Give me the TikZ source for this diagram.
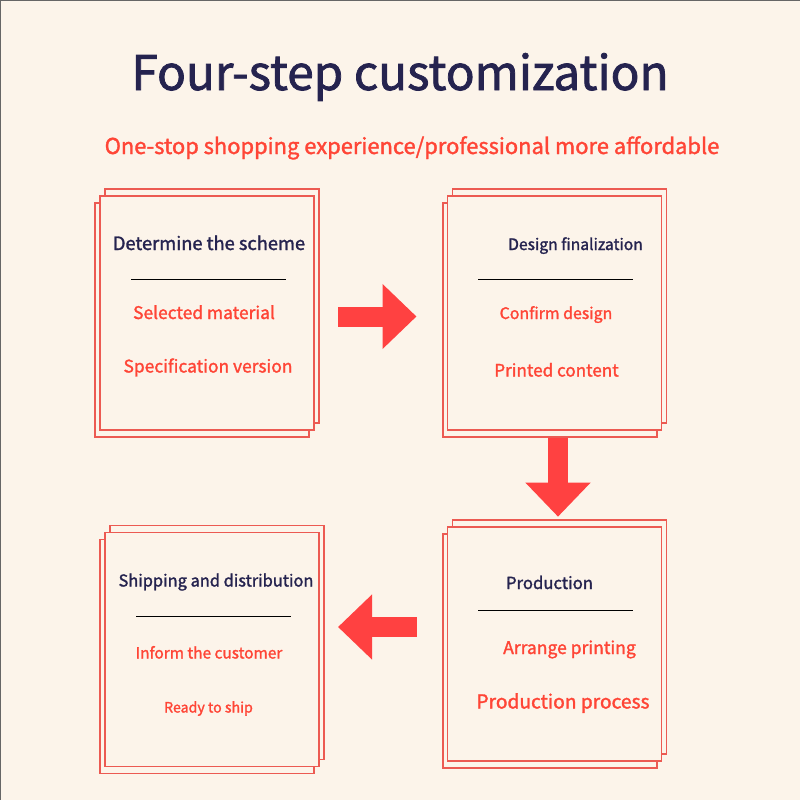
\documentclass[tikz,border=0pt]{standalone}
\usepackage{fontspec}
\setmainfont{Noto Sans CJK SC}[FakeBold=1.6]
\usetikzlibrary{arrows.meta,positioning}
\definecolor{pagebg}   {HTML}{FCF4EA}
\definecolor{inkblue}  {HTML}{25234F}
\definecolor{textred}  {HTML}{FF4536}
\definecolor{arrowred} {HTML}{FF4141}
\definecolor{cardred}  {HTML}{EC5A52}
\newcommand{\pxsize}[1]{\fontsize{#1pt}{#1pt}\selectfont}

\begin{document}
\begin{tikzpicture}[
  sheet/.style={draw=cardred,fill=pagebg,line width=1.2pt,
                minimum width=214pt,minimum height=234pt,inner sep=0pt},
  head/.style={text=inkblue,anchor=base,inner sep=0pt},
  item/.style={text=textred,anchor=base,inner sep=0pt},
  rule/.style={black,line width=0.9pt},
  bigarr/.style={arrowred,line width=20pt,-{Triangle[length=34pt,width=63pt]}},
  x=1pt,y=-1pt
]
\fill[pagebg] (0,0) rectangle (800,800);
\useasboundingbox (0,0) rectangle (800,800);
\draw[gray!80!black,line width=2pt] (0,800) -- (0,0) -- (800,0);
% Title
\node[head,font=\pxsize{47.7}] (title) at (400,90) {Four-step customization};
\node[item,font=\pxsize{21.9}] (slogan) at (412,154) {One-stop shopping experience/professional more affordable};
% Step 1
\node[sheet] (s1l) at (202,320) {};
\node[sheet] (s1r) at (212,306) {};
\node[sheet] (s1)  at (207,313) {};
\node[head,font=\pxsize{18.3}] (h1)  at (209,250)   {Determine the scheme};
\draw[rule] (131,279) -- (286,279);
\node[item,font=\pxsize{17.4}] (i1a) at (204,319)   {Selected material};
\node[item,font=\pxsize{17.4}] (i1b) at (208,372.5) {Specification version};
% Step 2
\node[sheet] (s2l) at (550,320) {};
\node[sheet] (s2r) at (559.5,306) {};
\node[sheet] (s2)  at (554.5,313) {};
\node[head,font=\pxsize{15.7}] (h2)  at (575.5,250) {Design finalization};
\draw[rule] (478,279) -- (633,279);
\node[item,font=\pxsize{15.9}] (i2a) at (556,319)   {Confirm design};
\node[item,font=\pxsize{17.1}] (i2b) at (556.5,376.5) {Printed content};
% Step 3
\node[sheet] (s3l) at (550,651) {};
\node[sheet] (s3r) at (559.5,637) {};
\node[sheet] (s3)  at (554.5,644) {};
\node[head,font=\pxsize{16.7}] (h3)  at (549.5,589) {Production};
\draw[rule] (478,610) -- (633,610);
\node[item,font=\pxsize{17.5}] (i3a) at (569.5,654) {Arrange printing};
\node[item,font=\pxsize{19.2}] (i3b) at (563,708.5) {Production process};
% Step 4
\node[sheet] (s4l) at (207,656.5) {};
\node[sheet] (s4r) at (217,642.5) {};
\node[sheet] (s4)  at (212,649.5) {};
\node[head,font=\pxsize{16.4}] (h4)  at (216,586.5) {Shipping and distribution};
\draw[rule] (136,616) -- (291,616);
\node[item,font=\pxsize{15.4}] (i4a) at (209,658.5) {Inform the customer};
\node[item,font=\pxsize{14.2}] (i4b) at (208.5,712.5) {Ready to ship};
% Arrows between steps
\draw[bigarr,shorten <=23.4pt,shorten >=30.4pt]
  ([yshift=-3.5pt]s1.east) -- ([yshift=-3.5pt]s2.west);
\draw[bigarr,shorten <=7.4pt,shorten >=9.7pt]
  ([xshift=3.5pt]s2.south) -- ([xshift=3.5pt]s3.north);
\draw[bigarr,shorten <=30.4pt,shorten >=18.4pt]
  ([yshift=17pt]s3.west) -- ([yshift=17pt]s3.west -| s4.east);
\end{tikzpicture}
\end{document}
